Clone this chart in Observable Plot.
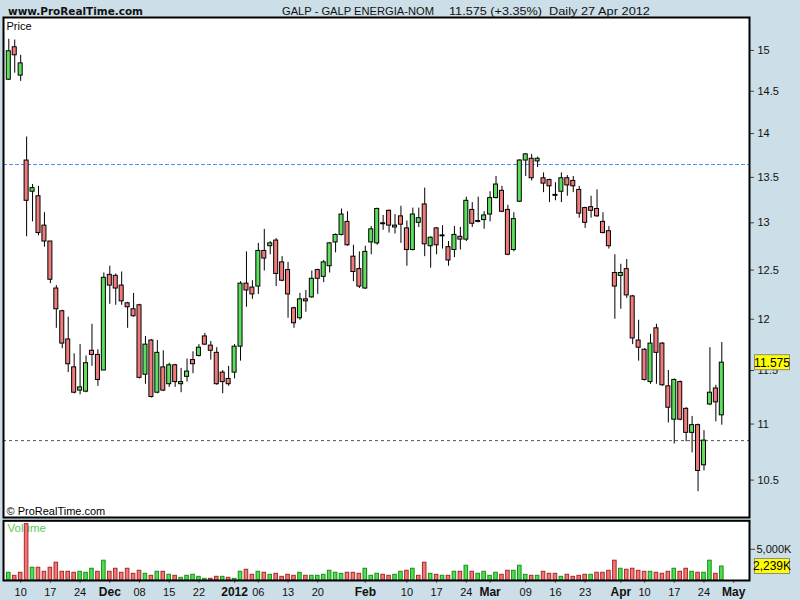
<!DOCTYPE html>
<html><head><meta charset="utf-8">
<script src="https://cdn.jsdelivr.net/npm/d3@7"></script>
<script src="https://cdn.jsdelivr.net/npm/@observablehq/plot@0.6"></script>
<style>
html,body{margin:0;padding:0;background:#ccdee7;}
#root{position:relative;width:800px;height:600px;overflow:hidden;background:#ccdee7;}
#root svg{position:absolute;left:0;}
</style></head>
<body><div id="root"></div>
<script>
// ---- Data ----
// trading days (x slots), incl. empty future slots after last bar
const calendar = [
  [2011, 11, [8,9,10,11,14,15,16,17,18,21,22,23,24,25,28,29,30]],
  [2011, 12, [1,2,5,6,7,8,9,12,13,14,15,16,19,20,21,22,23,27,28,29,30]],
  [2012, 1, [2,3,4,5,6,9,10,11,12,13,16,17,18,19,20,23,24,25,26,27,30,31]],
  [2012, 2, [1,2,3,6,7,8,9,10,13,14,15,16,17,20,21,22,23,24,27,28,29]],
  [2012, 3, [1,2,5,6,7,8,9,12,13,14,15,16,19,20,21,22,23,26,27,28,29,30]],
  [2012, 4, [2,3,4,5,10,11,12,13,16,17,18,19,20,23,24,25,26,27,30]],
  [2012, 5, [2,3,4]]
];
const open = [
  14.64,15.04,14.69,13.69,13.34,13.29,12.97,12.80,12.31,12.08,
  11.80,11.53,11.31,11.30,11.69,11.65,11.50,12.45,12.44,12.34,
  12.16,12.10,12.14,11.46,11.79,11.29,11.53,11.37,11.55,11.37,
  11.44,11.60,11.64,11.83,11.74,11.67,11.48,11.42,11.48,11.73,
  12.36,12.32,12.33,12.70,12.75,12.81,12.58,12.50,12.11,12.01,
  12.20,12.22,12.50,12.43,12.54,12.79,12.87,13.01,12.64,12.51,
  12.31,12.79,12.78,12.995,13.13,12.95,13.07,12.94,12.71,13.00,
  13.20,12.75,12.94,12.865,12.74,12.71,12.85,12.82,13.14,13.02,
  13.03,13.09,13.27,13.35,13.14,12.71,13.23,13.69,13.71,13.68,
  13.49,13.47,13.305,13.34,13.49,13.46,13.36,13.16,13.17,13.15,
  13.01,12.91,12.47,12.44,12.51,12.23,11.79,11.70,11.39,11.91,
  11.76,11.35,11.04,11.39,11.14,10.92,10.99,10.63,11.18,11.33,
  11.08];
const high = [
  15.14,15.13,14.94,13.96,13.42,13.40,13.11,12.80,12.34,12.09,
  12.02,11.66,11.75,11.64,11.95,11.70,12.47,12.54,12.46,12.48,
  12.17,12.26,12.15,11.83,11.80,11.79,11.69,11.57,11.56,11.52,
  11.61,11.68,11.75,11.86,11.78,11.72,11.50,11.54,11.75,12.38,
  12.69,12.39,12.78,12.93,12.80,12.83,12.64,12.58,12.12,12.26,
  12.29,12.49,12.51,12.60,12.79,12.88,13.15,13.12,12.76,12.69,
  12.75,12.96,13.16,13.08,13.14,13.09,13.18,13.02,13.16,13.16,
  13.38,12.85,12.95,12.97,12.80,12.96,12.95,13.28,13.22,13.28,
  13.12,13.34,13.51,13.40,13.19,13.11,13.70,13.77,13.76,13.73,
  13.55,13.48,13.44,13.55,13.52,13.51,13.40,13.17,13.29,13.36,
  13.11,12.96,12.66,12.56,12.61,12.24,11.99,11.71,11.85,11.95,
  11.77,11.50,11.42,11.40,11.15,11.07,11.00,10.94,11.72,11.36,
  11.77];
const low = [
  14.63,14.72,14.62,12.85,13.01,12.86,12.74,12.36,11.91,11.71,
  11.48,11.28,11.27,11.29,11.54,11.35,11.50,12.15,12.14,12.14,
  11.91,12.02,11.42,11.37,11.24,11.28,11.30,11.34,11.34,11.29,
  11.39,11.47,11.63,11.74,11.60,11.36,11.28,11.35,11.42,11.59,
  12.12,12.20,12.25,12.49,12.66,12.33,12.38,12.01,11.91,11.99,
  12.07,12.21,12.25,12.37,12.47,12.68,12.86,12.75,12.38,12.31,
  12.30,12.66,12.76,12.92,12.89,12.88,12.78,12.54,12.70,12.95,
  12.64,12.52,12.66,12.72,12.54,12.63,12.71,12.80,12.95,13.00,
  12.93,13.01,13.26,13.11,12.65,12.69,13.22,13.51,13.46,13.61,
  13.33,13.22,13.24,13.22,13.29,13.33,13.05,12.94,13.05,13.06,
  12.88,12.72,12.00,12.10,12.21,11.75,11.59,11.40,11.37,11.37,
  11.35,11.01,10.82,11.03,10.84,10.74,10.40,10.58,11.17,11.02,
  10.99];
const close = [
  14.99,14.94,14.84,13.24,13.38,12.89,12.80,12.40,12.10,11.76,
  11.56,11.29,11.34,11.57,11.65,11.41,12.42,12.34,12.31,12.18,
  12.12,12.03,11.43,11.75,11.25,11.67,11.31,11.55,11.39,11.39,
  11.49,11.56,11.72,11.75,11.69,11.37,11.39,11.37,11.73,12.36,
  12.29,12.25,12.70,12.62,12.78,12.46,12.39,12.25,11.96,12.20,
  12.18,12.41,12.41,12.58,12.78,12.87,13.09,12.76,12.48,12.33,
  12.69,12.93,13.15,12.985,12.97,12.97,12.98,12.71,13.09,13.05,
  12.77,12.84,12.76,12.855,12.60,12.87,12.82,13.24,12.99,13.01,
  13.08,13.27,13.42,13.12,12.66,13.04,13.69,13.76,13.49,13.71,
  13.43,13.40,13.295,13.49,13.41,13.40,13.10,13.00,13.13,13.07,
  12.89,12.75,12.33,12.47,12.24,11.81,11.72,11.41,11.76,11.67,
  11.36,11.15,11.41,11.04,10.92,10.99,10.58,10.85,11.29,11.20,
  11.575];
// volume in thousands of shares
const volume = [
  1237,753,1237,9032,2043,2043,1398,2043,2849,1398,
  1398,1237,1398,1237,1882,1398,3172,1398,1882,1237,
  1882,1075,1559,1075,753,1398,1398,914,753,430,
  753,914,591,269,269,591,591,430,269,1398,
  1720,914,1398,1237,914,1075,591,914,753,1237,
  753,753,753,914,1559,1237,1075,1237,1237,1075,
  1882,753,1075,914,753,914,1398,1559,1882,753,
  2849,1075,914,753,753,1398,1398,2365,1398,1075,
  1398,753,1237,914,1559,1559,2365,914,753,753,
  1398,1075,1075,591,914,591,753,914,914,1237,
  1237,1559,3172,1882,1720,1882,1559,1398,1398,1237,
  1075,1398,1882,1398,1882,1398,1237,1237,3172,1075,
  2239];
const priceTicks = [10.5, 11, 11.5, 12, 12.5, 13, 13.5, 14, 14.5, 15];
const volumeTicks = [5000];
const levelLines = [13.645, 10.85];
const xTickDates = ["2011-11-10","2011-11-17","2011-11-24","2011-12-01","2011-12-08","2011-12-15","2011-12-22",
  "2012-01-02","2012-01-06","2012-01-13","2012-01-20","2012-02-01","2012-02-10","2012-02-17","2012-02-24",
  "2012-03-01","2012-03-09","2012-03-16","2012-03-23","2012-04-02","2012-04-10","2012-04-17","2012-04-24","2012-05-02"];
const xTickLabels = ["10","17","24","Dec","08","15","22","2012","06","13","20","Feb","10","17","24",
  "Mar","09","16","23","Apr","10","17","24","May"];
const headerSite = "www.ProRealTime.com";
const headerTitle = ["GALP - GALP ENERGIA-NOM", "11.575 (+3.35%)", "Daily  27 Apr 2012"];

// ---- Build ----
const pad = n => String(n).padStart(2, "0");
const slots = [];
for (const [y, m, days] of calendar) for (const d of days) slots.push(`${y}-${pad(m)}-${pad(d)}`);
const candles = open.map((o, i) => ({
  i, date: slots[i], o, h: high[i], l: low[i], c: close[i], v: volume[i],
  up: close[i] >= o,
  vup: i === 0 ? true : close[i] >= close[i - 1]
}));
const xTicks = xTickDates.map((d, k) => ({i: slots.indexOf(d), label: xTickLabels[k], bold: !/^\d\d$/.test(xTickLabels[k])}));

const FONT = "'Liberation Sans', Arial, sans-serif";
const GREEN = "#5ddf5d", RED = "#f07b7b";
const xDomain = [-0.89, 124.66];
const root = document.getElementById("root");

const price = Plot.plot({
  width: 800, height: 518,
  marginTop: 17, marginRight: 51, marginBottom: 1, marginLeft: 3,
  style: {background: "transparent", fontFamily: FONT, fontSize: "11px", color: "#222", overflow: "visible"},
  x: {domain: xDomain, axis: null},
  y: {type: "log", domain: [10.179, 15.416], axis: null},
  marks: [
    Plot.frame({fill: "white", stroke: "none"}),
    Plot.axisY(priceTicks, {anchor: "right", label: null, tickSize: 4, tickPadding: 4, tickFormat: d => String(d), fontSize: 11, fill: "#111", stroke: "#444"}),
    Plot.text(["Price"], {frameAnchor: "top-left", lineAnchor: "middle", dx: 3, dy: 8.5, fontSize: 11, fill: "black", text: d => d}),
    Plot.text(["© ProRealTime.com"], {frameAnchor: "bottom-left", lineAnchor: "middle", dx: 3, dy: -6, fontSize: 11, fill: "black", text: d => d}),
    Plot.ruleY([levelLines[0]], {stroke: "#4d8eff", strokeDasharray: "4,2"}),
    Plot.ruleY([levelLines[1]], {stroke: "#555", strokeDasharray: "3,3"}),
    Plot.ruleX(candles, {x: "i", y1: "l", y2: "h", stroke: "black", strokeWidth: 1}),
    Plot.rect(candles, {x1: d => d.i - 0.34, x2: d => d.i + 0.34, y1: "o", y2: "c",
      fill: d => d.up ? GREEN : RED, stroke: "black", strokeWidth: 1}),
    Plot.frame({stroke: "black", strokeWidth: 2})
  ]
});
price.style.top = "0px";
root.appendChild(price);

const vol = Plot.plot({
  width: 800, height: 82,
  marginTop: 2.3, marginRight: 51, marginBottom: 20, marginLeft: 3,
  style: {background: "transparent", fontFamily: FONT, fontSize: "11px", color: "#222", overflow: "visible"},
  x: {domain: xDomain, axis: null},
  y: {domain: [0, 9565], axis: null},
  marks: [
    Plot.frame({fill: "white", stroke: "none"}),
    Plot.text(["Volume"], {frameAnchor: "top-left", lineAnchor: "middle", dx: 4, dy: 8, fontSize: 11.5, fill: "#55cc55", text: d => d}),
    Plot.rect(candles, {x1: d => d.i - 0.3, x2: d => d.i + 0.3, y1: () => 0, y2: "v",
      fill: d => d.vup ? "#4ddf4d" : "#f27676", stroke: d => d.vup ? "#1a8f1a" : "#a52a2a", strokeWidth: 1}),
    Plot.axisY(volumeTicks, {anchor: "right", label: null, tickSize: 5, tickPadding: 2, tickFormat: d => d3.format(",")(d) + "K", fontSize: 11, fill: "#111", stroke: "#444"}),
    Plot.axisX(xTicks.map(t => t.i), {anchor: "bottom", label: null, tickSize: 3, tickFormat: () => "", stroke: "#666"}),
    Plot.text(xTicks.filter(t => !t.bold), {x: "i", text: "label", frameAnchor: "bottom", lineAnchor: "middle", dy: 11.7, fontSize: 11, fill: "#111"}),
    Plot.text(xTicks.filter(t => t.bold), {x: "i", text: "label", frameAnchor: "bottom", lineAnchor: "middle", dy: 11.7, fontSize: 12, fontWeight: "bold", fill: "#111"}),
    Plot.frame({stroke: "black", strokeWidth: 2})
  ]
});
vol.style.top = "518px";
root.appendChild(vol);

// value badges on the right axis, placed through the plots' own scales
function badge(svg, yPix, label) {
  const g = d3.select(svg).append("g");
  g.append("rect").attr("x", 754.5).attr("y", yPix - 7.5).attr("width", 35).attr("height", 15)
    .attr("fill", "#ffff00").attr("stroke", "#8a8a8a");
  g.append("text").attr("x", 772).attr("y", yPix).attr("dy", "0.36em").attr("text-anchor", "middle")
    .attr("font-family", FONT).attr("font-size", 12).attr("fill", "black").text(label);
}
const last = candles[candles.length - 1];
badge(price, price.scale("y").apply(last.c), String(last.c));
badge(vol, vol.scale("y").apply(last.v), d3.format(",")(last.v) + "K");

// header
const header = d3.create("svg").attr("width", 800).attr("height", 17).style("top", "0px");
header.append("text").attr("x", 8).attr("y", 14.5).attr("font-family", "'DejaVu Sans', Verdana, sans-serif")
  .attr("font-weight", "bold").attr("font-size", 10).attr("textLength", 135).attr("lengthAdjust", "spacingAndGlyphs")
  .attr("fill", "#111").text(headerSite);
const titlePos = [[282, 152], [449, 93], [549, 101]];
headerTitle.forEach((t, k) => header.append("text").attr("x", titlePos[k][0]).attr("y", 14.5)
  .attr("font-family", FONT).attr("font-size", 11.5).attr("textLength", titlePos[k][1])
  .attr("lengthAdjust", "spacingAndGlyphs").attr("fill", "#111").text(t));
root.appendChild(header.node());
</script>
</body></html>
